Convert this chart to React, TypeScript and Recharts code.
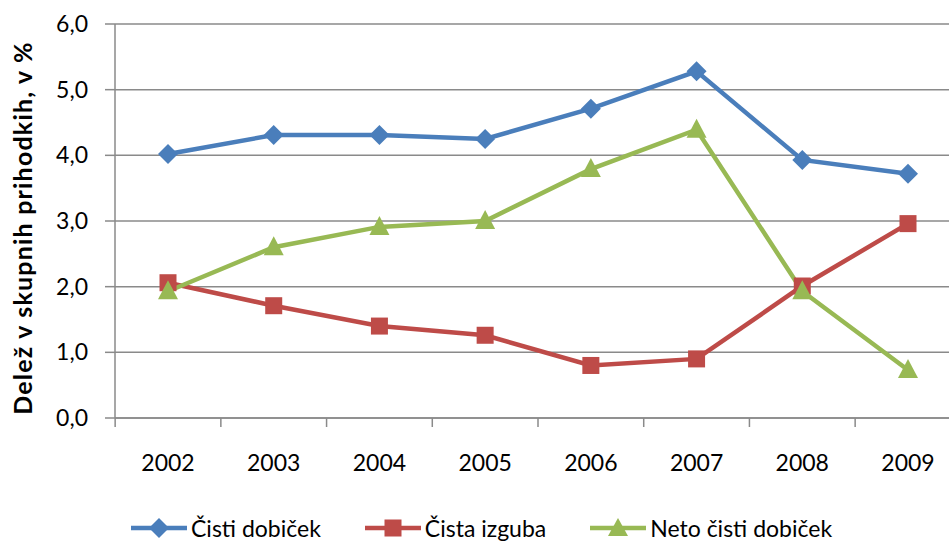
import React from 'react';
import { LineChart, Line, XAxis, YAxis, CartesianGrid, Legend } from 'recharts';

const years = ['2002', '2003', '2004', '2005', '2006', '2007', '2008', '2009'];
const cistiDobicek = [4.02, 4.31, 4.31, 4.25, 4.71, 5.28, 3.93, 3.72];
const cistaIzguba = [2.06, 1.71, 1.4, 1.26, 0.8, 0.9, 2.01, 2.96];
const netoCistiDobicek = [1.93, 2.6, 2.91, 3.0, 3.79, 4.39, 1.93, 0.73];
const yTicks = [0, 1, 2, 3, 4, 5, 6];

const seriesNames = ['Čisti dobiček', 'Čista izguba', 'Neto čisti dobiček'];
const BLUE = '#4A7EBB';
const RED = '#BE4B48';
const GREEN = '#98B954';
const GRID = '#8a8a8a';
const FONT = 'Lato, sans-serif';

const CHART_W = 965;
const MARGIN_R = 4;
const YAXIS_W = 115;
const PAD = 53;
const X_TICK_MARGIN = 37;
const PLOT_W = CHART_W - MARGIN_R - YAXIS_W;
const HALF_STEP = (PLOT_W - 2 * PAD) / (years.length - 1) / 2;

const data = years.map((y, i) => ({
  year: y,
  a: cistiDobicek[i],
  b: cistaIzguba[i],
  c: netoCistiDobicek[i],
}));

const Diamond = (props: any) => {
  const { cx, cy } = props;
  const r = 10;
  return <polygon points={`${cx},${cy - r} ${cx + r},${cy} ${cx},${cy + r} ${cx - r},${cy}`} fill={BLUE} />;
};
const Square = (props: any) => {
  const { cx, cy } = props;
  const s = 8.5;
  return <rect x={cx - s} y={cy - s} width={2 * s} height={2 * s} fill={RED} />;
};
const Triangle = (props: any) => {
  const { cx, cy } = props;
  return <polygon points={`${cx},${cy - 11} ${cx + 10},${cy + 8} ${cx - 10},${cy + 8}`} fill={GREEN} />;
};

const XTick = (props: any) => {
  const { x, y, payload, index } = props;
  const axisY = y - X_TICK_MARGIN;
  return (
    <g>
      <line x1={x - HALF_STEP} x2={x - HALF_STEP} y1={axisY} y2={axisY + 9} stroke={GRID} strokeWidth={1.5} />
      {index === years.length - 1 && (
        <line x1={x + HALF_STEP} x2={x + HALF_STEP} y1={axisY} y2={axisY + 9} stroke={GRID} strokeWidth={1.5} />
      )}
      <text x={x} y={y} dy="0.71em" textAnchor="middle" style={{ fontFamily: FONT, fontSize: 23, fill: '#000' }}>
        {payload.value}
      </text>
    </g>
  );
};

const LegendIcon = ({ kind }: { kind: number }) => {
  const color = [BLUE, RED, GREEN][kind];
  return (
    <svg width={58} height={24} style={{ display: 'block' }}>
      <line x1={1} y1={12} x2={57} y2={12} stroke={color} strokeWidth={4.5} />
      {kind === 0 && <polygon points="29,2 39,12 29,22 19,12" fill={color} />}
      {kind === 1 && <rect x={20.5} y={3.5} width={17} height={17} fill={color} />}
      {kind === 2 && <polygon points="29,2 39,20 19,20" fill={color} />}
    </svg>
  );
};

const LegendContent = () => (
  <div style={{ display: 'flex', justifyContent: 'flex-start', paddingLeft: 130, height: 26, alignItems: 'center', fontFamily: FONT, fontSize: 23, color: '#000' }}>
    {seriesNames.map((n, i) => (
      <div key={n} style={{ display: 'flex', alignItems: 'center', marginRight: 43 }}>
        <LegendIcon kind={i} />
        <span style={{ marginLeft: 3, lineHeight: '24px' }}>{n}</span>
      </div>
    ))}
  </div>
);

export default function App() {
  return (
    <div style={{ position: 'absolute', left: 0, top: 0, width: 949, height: 541, overflow: 'hidden', background: '#fff' }}>
      <LineChart width={CHART_W} height={541} data={data} margin={{ top: 24, right: MARGIN_R, left: 0, bottom: 0 }}>
        <CartesianGrid vertical={false} stroke={GRID} strokeWidth={1.5} />
        <XAxis
          dataKey="year"
          padding={{ left: PAD, right: PAD }}
          axisLine={{ stroke: GRID, strokeWidth: 1.5 }}
          tickLine={false}
          tickSize={0}
          tickMargin={X_TICK_MARGIN}
          height={97}
          interval={0}
          tick={XTick}
        />
        <YAxis
          domain={[0, 6]}
          ticks={yTicks}
          width={YAXIS_W}
          axisLine={{ stroke: GRID, strokeWidth: 1.5 }}
          tickLine={{ stroke: GRID, strokeWidth: 1.5 }}
          tickSize={10}
          tickMargin={17}
          tickFormatter={(v: number) => v.toFixed(1).replace('.', ',')}
          tick={{ fontFamily: FONT, fontSize: 23, fill: '#000' }}
          label={{
            content: () => (
              <text
                x={22}
                y={228}
                transform="rotate(-90 22 228)"
                textAnchor="middle"
                dominantBaseline="central"
                style={{ fontFamily: FONT, fontSize: 25, fontWeight: 700, fill: '#000', letterSpacing: 1.2 }}
              >
                Delež v skupnih prihodkih, v %
              </text>
            ),
          }}
        />
        <Legend
          verticalAlign="bottom"
          content={LegendContent}
          wrapperStyle={{ position: 'absolute', left: 0, width: 949, top: 515, bottom: 'auto', height: 26 }}
        />
        <Line dataKey="a" name={seriesNames[0]} stroke={BLUE} strokeWidth={4.5} dot={Diamond} activeDot={false} isAnimationActive={false} />
        <Line dataKey="b" name={seriesNames[1]} stroke={RED} strokeWidth={4.5} dot={Square} activeDot={false} isAnimationActive={false} />
        <Line dataKey="c" name={seriesNames[2]} stroke={GREEN} strokeWidth={4.5} dot={Triangle} activeDot={false} isAnimationActive={false} />
      </LineChart>
    </div>
  );
}
